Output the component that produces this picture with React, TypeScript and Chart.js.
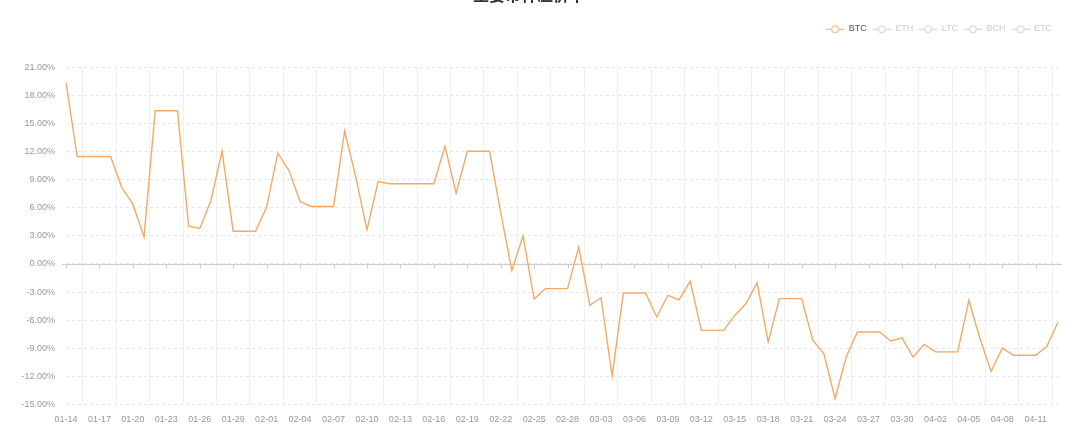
import React, { useEffect, useRef } from 'react';
import { Chart, registerables } from 'chart.js';

Chart.register(...registerables);

const chartTitle = '主要币种溢价率';

const categories = [
  '01-14', '01-15', '01-16', '01-17', '01-18', '01-19', '01-20', '01-21', '01-22', '01-23',
  '01-24', '01-25', '01-26', '01-27', '01-28', '01-29', '01-30', '01-31', '02-01', '02-02',
  '02-03', '02-04', '02-05', '02-06', '02-07', '02-08', '02-09', '02-10', '02-11', '02-12',
  '02-13', '02-14', '02-15', '02-16', '02-17', '02-18', '02-19', '02-20', '02-21', '02-22',
  '02-23', '02-24', '02-25', '02-26', '02-27', '02-28', '03-01', '03-02', '03-03', '03-04',
  '03-05', '03-06', '03-07', '03-08', '03-09', '03-10', '03-11', '03-12', '03-13', '03-14',
  '03-15', '03-16', '03-17', '03-18', '03-19', '03-20', '03-21', '03-22', '03-23', '03-24',
  '03-25', '03-26', '03-27', '03-28', '03-29', '03-30', '03-31', '04-01', '04-02', '04-03',
  '04-04', '04-05', '04-06', '04-07', '04-08', '04-09', '04-10', '04-11', '04-12', '04-13',
];

const btcPremium = [
  19.4, 11.5, 11.5, 11.5, 11.5, 8.2, 6.4, 2.9, 16.4, 16.4,
  16.4, 4.05, 3.8, 6.8, 12.06, 3.5, 3.5, 3.5, 6.1, 11.85,
  10.0, 6.7, 6.15, 6.15, 6.15, 14.2, 9.3, 3.66, 8.82, 8.58,
  8.58, 8.58, 8.58, 8.58, 12.6, 7.57, 12.06, 12.06, 12.06, 5.5,
  -0.68, 3.0, -3.75, -2.64, -2.64, -2.64, 1.8, -4.42, -3.6, -12.0,
  -3.1, -3.1, -3.1, -5.67, -3.35, -3.85, -1.83, -7.1, -7.1, -7.1,
  -5.5, -4.25, -2.0, -8.35, -3.7, -3.7, -3.7, -8.16, -9.6, -14.4,
  -9.95, -7.27, -7.27, -7.27, -8.24, -7.9, -9.95, -8.6, -9.4, -9.4,
  -9.4, -3.9, -8.0, -11.5, -9.0, -9.77, -9.77, -9.77, -8.8, -6.2,
];

const seriesNames = ['BTC', 'ETH', 'LTC', 'BCH', 'ETC'];
const seriesColors = ['#f3aa66', '#cccccc', '#cccccc', '#cccccc', '#cccccc'];
const legendTextColors = ['#555555', '#cccccc', '#cccccc', '#cccccc', '#cccccc'];

const yMin = -15;
const yMax = 21;
const yStep = 3;
const labelEvery = 3;

function makeIcon(color: string) {
  const c = document.createElement('canvas');
  c.width = 18;
  c.height = 10;
  const g = c.getContext('2d') as CanvasRenderingContext2D;
  g.strokeStyle = color;
  g.lineWidth = 1;
  g.beginPath();
  g.moveTo(0, 5.5);
  g.lineTo(18, 5.5);
  g.stroke();
  g.beginPath();
  g.arc(9, 5.5, 3.5, 0, Math.PI * 2);
  g.fillStyle = '#ffffff';
  g.fill();
  g.stroke();
  return c;
}

const zeroLinePlugin = {
  id: 'zeroLine',
  beforeDatasetsDraw(chart: any) {
    const { ctx, chartArea, scales } = chart;
    const y = Math.round(scales.y.getPixelForValue(0)) + 0.5;
    ctx.save();
    ctx.strokeStyle = '#cccccc';
    ctx.lineWidth = 1;
    ctx.setLineDash([]);
    ctx.beginPath();
    ctx.moveTo(chartArea.left - 4, y);
    ctx.lineTo(chartArea.right + 4, y);
    for (let i = 0; i < categories.length; i += labelEvery) {
      const x = Math.round(scales.x.getPixelForValue(i)) + 0.5;
      ctx.moveTo(x, y);
      ctx.lineTo(x, y + 4);
    }
    ctx.stroke();
    ctx.restore();
  },
};

export default function App() {
  const ref = useRef<HTMLCanvasElement | null>(null);

  useEffect(() => {
    if (!ref.current) return;
    Chart.defaults.font.family = "'Liberation Sans', Arial, sans-serif";
    const icons = seriesColors.map((c) => makeIcon(c));
    const datasets = seriesNames.map((name, i) => ({
      label: name,
      data: i === 0 ? btcPremium : [],
      borderColor: seriesColors[i],
      backgroundColor: seriesColors[i],
      borderWidth: 1.4,
      pointRadius: 0,
      pointHoverRadius: 0,
      tension: 0,
      fill: false,
      hidden: i !== 0,
      xAxisID: 'x',
      yAxisID: 'y',
    }));

    const chart = new Chart(ref.current, {
      type: 'line',
      data: { labels: categories, datasets },
      plugins: [zeroLinePlugin],
      options: {
        responsive: false,
        animation: false,
        devicePixelRatio: 1,
        layout: { padding: { left: 0, right: 22, top: 0, bottom: 1 } },
        plugins: {
          title: {
            display: true,
            text: chartTitle,
            color: '#333333',
            font: { family: "'Noto Sans CJK SC', sans-serif", size: 16, weight: 'bold' },
            padding: { top: 5, bottom: 14 },
          },
          legend: {
            display: true,
            position: 'top',
            align: 'end',
            onClick: () => {},
            labels: {
              usePointStyle: true,
              pointStyleWidth: 18,
              boxHeight: 9,
              padding: 6,
              font: { size: 9 },
              generateLabels: (ch: any) =>
                ch.data.datasets.map((ds: any, i: number) => ({
                  text: ds.label,
                  fontColor: legendTextColors[i],
                  pointStyle: icons[i],
                  hidden: false,
                  datasetIndex: i,
                  lineWidth: 0,
                  strokeStyle: 'rgba(0,0,0,0)',
                  fillStyle: 'rgba(0,0,0,0)',
                })),
            },
          },
          tooltip: { enabled: false },
        },
        scales: {
          x: {
            type: 'category',
            offset: false,
            grid: {
              display: true,
              drawTicks: false,
              offset: true,
              color: (c: any) => (c.index % labelEvery === 2 ? '#f0f0f0' : 'rgba(0,0,0,0)'),
            },
            border: { display: false },
            ticks: {
              autoSkip: false,
              maxRotation: 0,
              minRotation: 0,
              padding: 10,
              color: '#999999',
              font: { size: 9 },
              callback: (_v: any, i: number) => (i % labelEvery === 0 ? categories[i] : ''),
            },
          },
          spacer: {
            type: 'linear',
            axis: 'x',
            position: 'top',
            display: true,
            grid: { display: false, drawTicks: false },
            border: { display: false },
            ticks: { display: false },
            afterFit: (s: any) => {
              s.height = 24.5;
            },
          },
          y: {
            min: yMin,
            max: yMax,
            grid: { drawTicks: false, color: '#e8e8e8' },
            border: { display: false, dash: [3, 3] },
            ticks: {
              stepSize: yStep,
              padding: 11,
              color: '#999999',
              font: { size: 9 },
              callback: (v: any) => Number(v).toFixed(2) + '%',
            },
            afterFit: (s: any) => {
              s.width = 66;
            },
          },
        },
      } as any,
    });
    return () => chart.destroy();
  }, []);

  return (
    <div style={{ position: 'fixed', left: 0, top: -20, width: 1080, height: 456 }}>
      <canvas ref={ref} width={1080} height={456} style={{ display: 'block' }} />
    </div>
  );
}
